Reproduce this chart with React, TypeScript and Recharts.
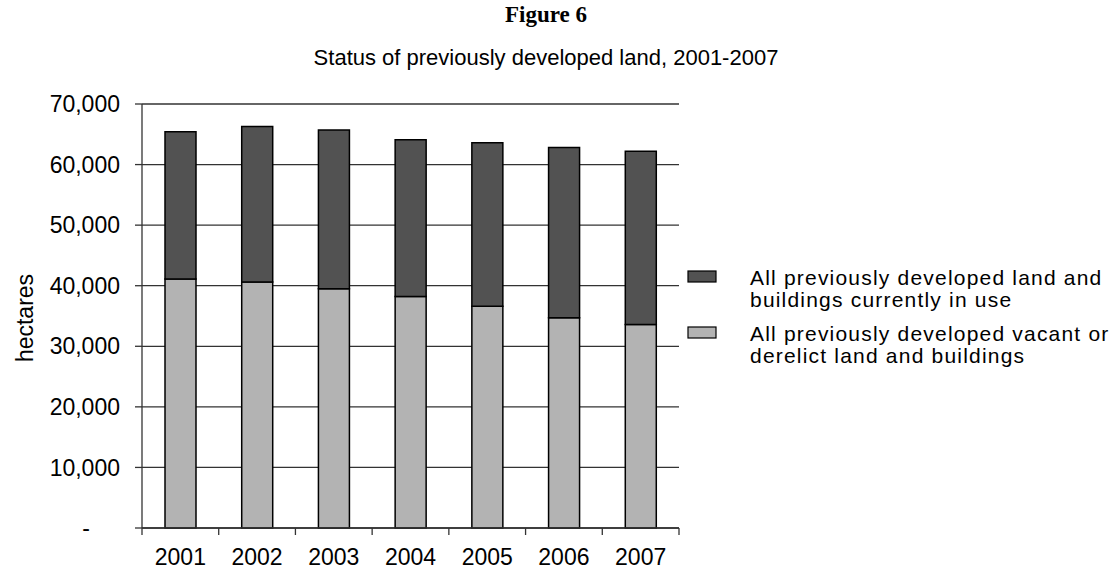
import React from 'react';
import { BarChart, Bar, XAxis, YAxis, CartesianGrid } from 'recharts';

// hectares of previously developed land, by year
const years = ['2001', '2002', '2003', '2004', '2005', '2006', '2007'];
const vacantDerelict = [41100, 40600, 39500, 38200, 36600, 34700, 33600];
const inUse = [24300, 25700, 26200, 25900, 27000, 28100, 28600];
const yTicks = [0, 10000, 20000, 30000, 40000, 50000, 60000, 70000];

const seriesNames = {
  inUse: ['All previously developed land and', 'buildings currently in use'],
  vacant: ['All previously developed vacant or', 'derelict land and buildings'],
};

const W = 1119;
const H = 570;
const MARGIN = { top: 104, right: 440, bottom: 0, left: 0 };
const Y_AXIS_W = 142;
const X_AXIS_H = 42;
const STEP = (W - MARGIN.left - MARGIN.right - Y_AXIS_W) / years.length;
const AXIS_Y = H - MARGIN.bottom - X_AXIS_H;

const FONT = '"Liberation Sans", Arial, sans-serif';
const DARK = '#525252';
const LIGHT = '#b3b3b3';
const LINE = '#333';

const data = years.map((year, i) => ({
  year,
  vacant: vacantDerelict[i],
  inUse: inUse[i],
}));

const fmt = (v: number) => (v === 0 ? '-' : v.toLocaleString('en-US'));

const YTick = ({ x, y, payload }: any) => {
  const zero = payload.value === 0;
  return (
    <text
      x={zero ? x - 34 : x}
      y={y}
      dy="0.355em"
      textAnchor={zero ? 'middle' : 'end'}
      fontFamily={FONT}
      fontSize={23}
      fill="#000"
    >
      {fmt(payload.value)}
    </text>
  );
};

// category boundaries get the tick marks, labels sit in the middle
const XTick = ({ x, payload, index }: any) => {
  const left = x - STEP / 2;
  const right = x + STEP / 2;
  return (
    <g>
      <line x1={left} x2={left} y1={AXIS_Y} y2={AXIS_Y + 7} stroke={LINE} strokeWidth={1.3} />
      {index === years.length - 1 && (
        <line x1={right} x2={right} y1={AXIS_Y} y2={AXIS_Y + 7} stroke={LINE} strokeWidth={1.3} />
      )}
      <text x={x} y={AXIS_Y + 37} textAnchor="middle" fontFamily={FONT} fontSize={23} fill="#000">
        {payload.value}
      </text>
    </g>
  );
};

// y is the baseline of the first text line
const LegendRow = ({ y, fill, lines }: { y: number; fill: string; lines: string[] }) => (
  <g>
    <rect x={688} y={y - 14} width={28} height={11} fill={fill} stroke="#000" strokeWidth={1.2} />
    <text x={750} y={y} fontFamily={FONT} fontSize={21} letterSpacing={1.2} fill="#000">
      {lines.map((t, i) => (
        <tspan key={t} x={750} dy={i === 0 ? 0 : 22}>
          {t}
        </tspan>
      ))}
    </text>
  </g>
);

export default function App() {
  return (
    <div style={{ position: 'absolute', left: 0, top: 0, width: W, height: H, background: '#fff' }}>
      <BarChart width={W} height={H} data={data} margin={MARGIN} barSize={31}>
        <CartesianGrid vertical={false} stroke={LINE} strokeWidth={1.3} />
        <XAxis
          dataKey="year"
          height={X_AXIS_H}
          interval={0}
          axisLine={{ stroke: LINE, strokeWidth: 1.3 }}
          tickLine={false}
          tick={<XTick />}
        />
        <YAxis
          width={Y_AXIS_W}
          domain={[0, 70000]}
          ticks={yTicks}
          interval={0}
          tickSize={7}
          tickMargin={15}
          axisLine={{ stroke: LINE, strokeWidth: 1.3 }}
          tickLine={{ stroke: LINE, strokeWidth: 1.3 }}
          tick={<YTick />}
          label={{
            content: () => (
              <text
                transform="translate(33,318) rotate(-90)"
                textAnchor="middle"
                fontFamily={FONT}
                fontSize={23}
                fill="#000"
              >
                hectares
              </text>
            ),
          }}
        />
        <Bar dataKey="vacant" stackId="land" fill={LIGHT} stroke="#000" strokeWidth={1.5} isAnimationActive={false} />
        <Bar dataKey="inUse" stackId="land" fill={DARK} stroke="#000" strokeWidth={1.5} isAnimationActive={false} />
      </BarChart>
      <svg width={W} height={H} style={{ position: 'absolute', left: 0, top: 0, pointerEvents: 'none' }}>
        <text x={546} y={22} textAnchor="middle" fontFamily='"Liberation Serif", "Times New Roman", serif' fontWeight="bold" fontSize={23}>
          Figure 6
        </text>
        <text x={546} y={65} textAnchor="middle" fontFamily={FONT} fontSize={22}>
          Status of previously developed land, 2001-2007
        </text>
        <LegendRow y={285} fill={DARK} lines={seriesNames.inUse} />
        <LegendRow y={341} fill={LIGHT} lines={seriesNames.vacant} />
      </svg>
    </div>
  );
}
